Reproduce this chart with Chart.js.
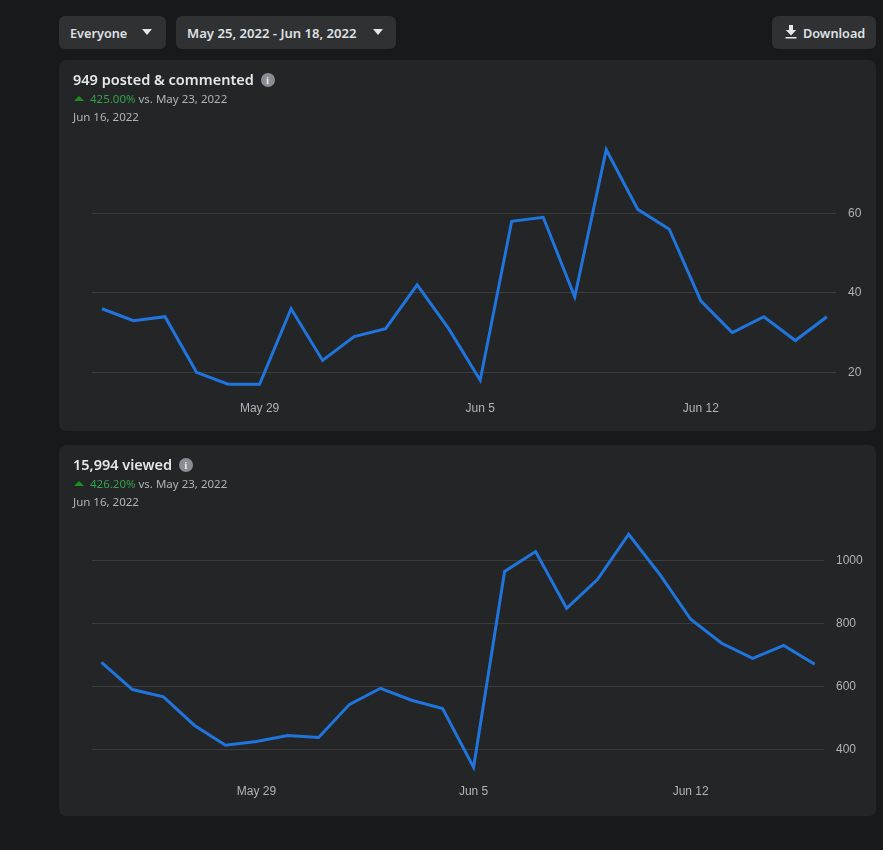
<!DOCTYPE html>
<html>
<head>
<meta charset="utf-8">
<title>Group insights</title>
<script src="https://cdn.jsdelivr.net/npm/chart.js@4/dist/chart.umd.min.js"></script>
<style>
  html, body { margin: 0; padding: 0; background: #18191a; }
  body { width: 883px; height: 850px; position: relative; overflow: hidden; font-family: "Noto Sans", sans-serif; color: #e4e6eb; }
  .btn { position: absolute; top: 16px; height: 33px; background: #303132; border-radius: 6px; font-size: 12.7px; font-weight: 600; line-height: 34px; color: #dfe1e6; white-space: nowrap; }
  .btn span { position: absolute; top: 0; }
  .caret { position: absolute; top: 13px; width: 0; height: 0; border-left: 5.5px solid transparent; border-right: 5.5px solid transparent; border-top: 6px solid #e4e6eb; }
  .card { position: absolute; left: 59px; width: 817px; background: #242526; border-radius: 7px; }
  .card canvas { position: absolute; left: 0; top: 0; }
  .title { position: absolute; left: 14px; top: 9px; font-size: 14.5px; font-weight: 600; line-height: 20px; white-space: nowrap; }
  .info { display: inline-block; width: 14px; height: 14px; border-radius: 50%; background: #8a8d91; color: #e4e6eb; font: bold 11px/14px "Liberation Serif", serif; text-align: center; vertical-align: 1px; margin-left: 3px; }
  .delta { position: absolute; left: 14px; top: 31px; font-size: 11.5px; line-height: 16px; color: #b0b3b8; white-space: nowrap; }
  .delta b { font-weight: 400; color: #31a24c; }
  .arrow { display: inline-block; width: 0; height: 0; border-left: 5px solid transparent; border-right: 5px solid transparent; border-bottom: 5px solid #1a8f1a; margin: 0 6px 2px 1px; }
  .date { position: absolute; left: 14px; top: 49px; font-size: 11.5px; line-height: 16px; color: #b0b3b8; white-space: nowrap; }
</style>
</head>
<body>
  <div class="btn" style="left:59px;width:107px"><span style="left:11px">Everyone</span><i class="caret" style="left:83px"></i></div>
  <div class="btn" style="left:176px;width:220px;font-size:13.1px"><span style="left:11px">May 25, 2022 - Jun 18, 2022</span><i class="caret" style="left:197px"></i></div>
  <div class="btn" style="left:772px;width:104px">
    <svg style="position:absolute;left:12px;top:9px" width="14" height="15" viewBox="0 0 14 15"><path d="M5 0h4v5h3.2L7 10.4 1.8 5H5z M1.5 12h11v1.6h-11z" fill="#e4e6eb"/></svg>
    <span style="left:31px">Download</span>
  </div>

  <div class="card" style="top:60px;height:371px">
    <canvas id="postedChart"></canvas>
    <div class="title">949 posted &amp; commented <i class="info" style="font-style:normal">i</i></div>
    <div class="delta"><i class="arrow"></i><b>425.00%</b> vs. May 23, 2022</div>
    <div class="date">Jun 16, 2022</div>
  </div>

  <div class="card" style="top:445px;height:371px">
    <canvas id="viewedChart"></canvas>
    <div class="title">15,994 viewed <i class="info" style="font-style:normal">i</i></div>
    <div class="delta"><i class="arrow"></i><b>426.20%</b> vs. May 23, 2022</div>
    <div class="date">Jun 16, 2022</div>
  </div>

<script>
const dates = [
  'May 24', 'May 25', 'May 26', 'May 27', 'May 28', 'May 29', 'May 30', 'May 31',
  'Jun 1', 'Jun 2', 'Jun 3', 'Jun 4', 'Jun 5', 'Jun 6', 'Jun 7', 'Jun 8',
  'Jun 9', 'Jun 10', 'Jun 11', 'Jun 12', 'Jun 13', 'Jun 14', 'Jun 15', 'Jun 16',
];
const xTickLabels = ['May 29', 'Jun 5', 'Jun 12'];
const postedValues = [36, 33, 34, 20, 17, 17, 36, 23, 29, 31, 42, 31, 18, 58, 59, 39, 76, 61, 56, 38, 30, 34, 28, 34];
const viewedValues = [676, 590, 567, 476, 413, 425, 444, 438, 543, 594, 556, 530, 343, 965, 1028, 848, 940, 1083, 956, 813, 737, 689, 730, 670];
const postedTicks = [20, 40, 60];
const viewedTicks = [400, 600, 800, 1000];

function drawLine(id, values, yTicks, box) {
  const canvas = document.getElementById(id);
  canvas.width = 817;
  canvas.height = box.height;

  new Chart(canvas, {
    type: 'line',
    data: {
      datasets: [{
        data: values.map((v, i) => ({ x: i, y: v })),
        borderColor: '#1f75dd',
        borderWidth: 3,
        pointRadius: 0,
        tension: 0,
        borderJoinStyle: 'miter',
      }],
    },
    options: {
      responsive: false,
      animation: false,
      layout: { padding: { left: box.left, top: box.top, right: box.right, bottom: 0 } },
      plugins: { legend: { display: false }, tooltip: { enabled: false } },
      scales: {
        x: {
          type: 'linear',
          min: box.xMin,
          max: box.xMax,
          grid: { display: false },
          border: { display: false },
          afterBuildTicks: (scale) => {
            scale.ticks = xTickLabels.map((label) => ({ value: dates.indexOf(label) }));
          },
          afterFit: (scale) => { scale.height = box.xHeight; },
          ticks: {
            autoSkip: false,
            maxRotation: 0,
            padding: box.xPad,
            color: '#b0b3b8',
            font: { family: 'Liberation Sans', size: 12 },
            callback: (value) => dates[value],
          },
        },
        y: {
          position: 'right',
          min: box.yMin,
          max: box.yMax,
          border: { display: false },
          grid: { color: '#3a3b3c', lineWidth: 1, drawTicks: false },
          afterBuildTicks: (scale) => {
            scale.ticks = yTicks.map((value) => ({ value: value }));
          },
          afterFit: (scale) => { scale.width = box.yWidth; },
          ticks: {
            padding: 12,
            color: '#b0b3b8',
            font: { family: 'Liberation Sans', size: 12 },
            callback: (value) => String(value),
          },
        },
      },
    },
  });
}

drawLine('postedChart', postedValues, postedTicks, {
  height: 371, left: 33, top: 75.4, right: 0, xHeight: 35.6, xPad: -2, yWidth: 40,
  xMin: -0.317, xMax: 23.29, yMin: 14.2, yMax: 79.6,
});
drawLine('viewedChart', viewedValues, viewedTicks, {
  height: 371, left: 33, top: 80.4, right: 12, xHeight: 35.6, xPad: -4, yWidth: 40,
  xMin: -0.306, xMax: 23.3, yMin: 301.6, yMax: 1111,
});
</script>
</body>
</html>
